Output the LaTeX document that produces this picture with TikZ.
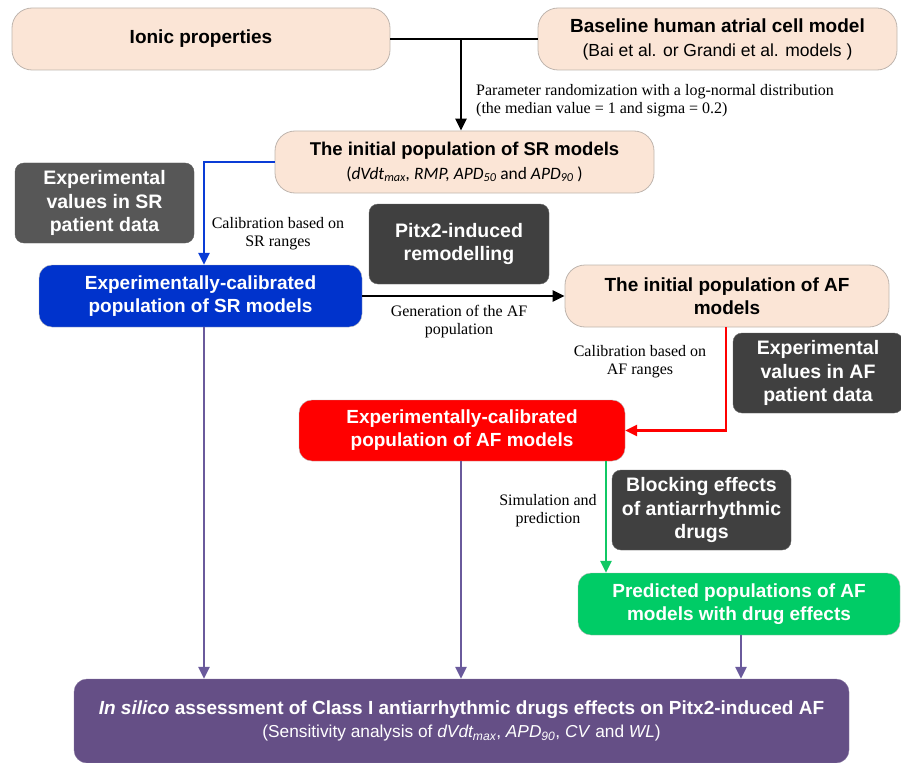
\documentclass[tikz,border=0pt]{standalone}
\usepackage{fontspec}
\setmainfont{Liberation Sans}
\newfontfamily\serifl{Liberation Serif}
\newfontfamily\carl{Carlito}
\usetikzlibrary{arrows.meta,calc}
\definecolor{beige}{HTML}{FBE5D6}
\definecolor{beigeb}{HTML}{BFB5AE}
\definecolor{darkA}{HTML}{575757}
\definecolor{darkB}{HTML}{404040}
\definecolor{srblue}{HTML}{0033CC}
\definecolor{afred}{HTML}{FF0000}
\definecolor{prgreen}{HTML}{00CC66}
\definecolor{fpurple}{HTML}{654F86}
\definecolor{lpurple}{HTML}{6A5A9C}
\definecolor{lblue}{HTML}{0A3CD6}
\definecolor{lgreen}{HTML}{10C864}
\begin{document}
\begin{tikzpicture}[x=1pt,y=-1pt,
  base/.style={align=center,inner sep=0pt,font=\fontsize{19}{23}\selectfont\bfseries},
  beigebox/.style={base,fill=beige,draw=beigeb,line width=0.8pt,rounded corners=20pt},
  darkbox/.style={base,fill=darkB,draw=darkB!80,text=white,rounded corners=9pt,font=\fontsize{19.5}{23.5}\selectfont\bfseries},
  colbox/.style={base,draw=gray!60,text=white,rounded corners=13pt},
  lbl/.style={font=\serifl\fontsize{16}{18}\selectfont,align=center,inner sep=0pt},
  arr/.style={-{Triangle[length=12pt,width=11pt]},line width=2.4pt},
  parr/.style={-{Triangle[length=12pt,width=11pt]},line width=2.4pt,draw=lpurple},
]
\useasboundingbox (0,0) rectangle (901,762);
% nodes
\node[beigebox,minimum width=378pt,minimum height=62pt] (ionic) at (201,39) {Ionic properties};
\node[beigebox,minimum width=359pt,minimum height=62pt] (basel) at (717.5,39) {Baseline human atrial cell model\\[1pt]{\mdseries\fontsize{17.5}{20}\selectfont(Bai et al. or Grandi et al. models )}};
\node[beigebox,minimum width=379pt,minimum height=62pt] (isr) at (464.5,162) {\fontsize{18.5}{21}\selectfont The initial population of SR models\\[1pt]{\carl\mdseries\fontsize{17.4}{20}\selectfont(\textit{dVdt\textsubscript{max}, RMP, APD\textsubscript{50}} and \textit{APD\textsubscript{90}} )}};
\node[darkbox,fill=darkA,draw=darkA,minimum width=179pt,minimum height=80pt] (expsr) at (104.5,203) {Experimental\\values in SR\\patient data};
\node[darkbox,minimum width=180pt,minimum height=80pt] (pitx) at (459,244) {Pitx2-induced\\remodelling};
\node[colbox,fill=srblue,minimum width=323pt,minimum height=62pt] (ecsr) at (200.5,296) {Experimentally-calibrated\\population of SR models};
\node[beigebox,minimum width=324pt,minimum height=62pt] (iaf) at (727,296) {The initial population of AF\\models};
\node[darkbox,minimum width=170pt,minimum height=80pt] (expaf) at (818,373) {Experimental\\values in AF\\patient data};
\node[colbox,fill=afred,minimum width=326pt,minimum height=61pt] (ecaf) at (462,430.5) {Experimentally-calibrated\\population of AF models};
\node[darkbox,minimum width=179pt,minimum height=80pt] (block) at (701.5,510) {Blocking effects\\of antiarrhythmic\\drugs};
\node[colbox,fill=prgreen,minimum width=322pt,minimum height=62pt] (pred) at (739,604) {Predicted populations of AF\\models with drug effects};
\node[colbox,fill=fpurple,draw=fpurple!80,minimum width=775pt,minimum height=84pt] (final) at (461.5,721) {\textit{In silico} assessment of Class I antiarrhythmic drugs effects on Pitx2-induced AF\\[0pt]{\mdseries\fontsize{17.3}{20}\selectfont(Sensitivity analysis of \textit{dVdt\textsubscript{max}}, \textit{APD\textsubscript{90}}, \textit{CV} and \textit{WL})}};
% connectors
\coordinate (j1) at (461,39);
\draw[line width=2.6pt] (ionic.east) -- (basel.west);
\draw[arr] (j1) -- (isr.north -| j1);
\node[lbl,anchor=west,align=left] (l1) at (476,101) {Parameter randomization with a log-normal distribution\\(the median value = 1 and sigma = 0.2)};
\coordinate (b1) at (204,162);
\draw[arr,draw=lblue] (isr.west) -- (b1) -- (ecsr.north -| b1);
\node[lbl] (l2) at (278,234) {Calibration based on\\SR ranges};
\draw[arr] (ecsr.east) -- (iaf.west);
\node[lbl] (l3) at (459,322) {Generation of the AF\\population};
\coordinate (r1) at (726,430.5);
\draw[arr,draw=afred] (iaf.south -| r1) -- (r1) -- (ecaf.east);
\node[lbl] (l4) at (640,362) {Calibration based on\\AF ranges};
\coordinate (g1) at (606,461);
\draw[arr,draw=lgreen] (g1) -- (pred.north -| g1);
\node[lbl] (l5) at (548,511) {Simulation and\\prediction};
\coordinate (p1) at (204,327);
\coordinate (p2) at (461,461);
\coordinate (p3) at (741,635);
\draw[parr] (p1) -- (final.north -| p1);
\draw[parr] (p2) -- (final.north -| p2);
\draw[parr] (p3) -- (final.north -| p3);
\end{tikzpicture}
\end{document}
